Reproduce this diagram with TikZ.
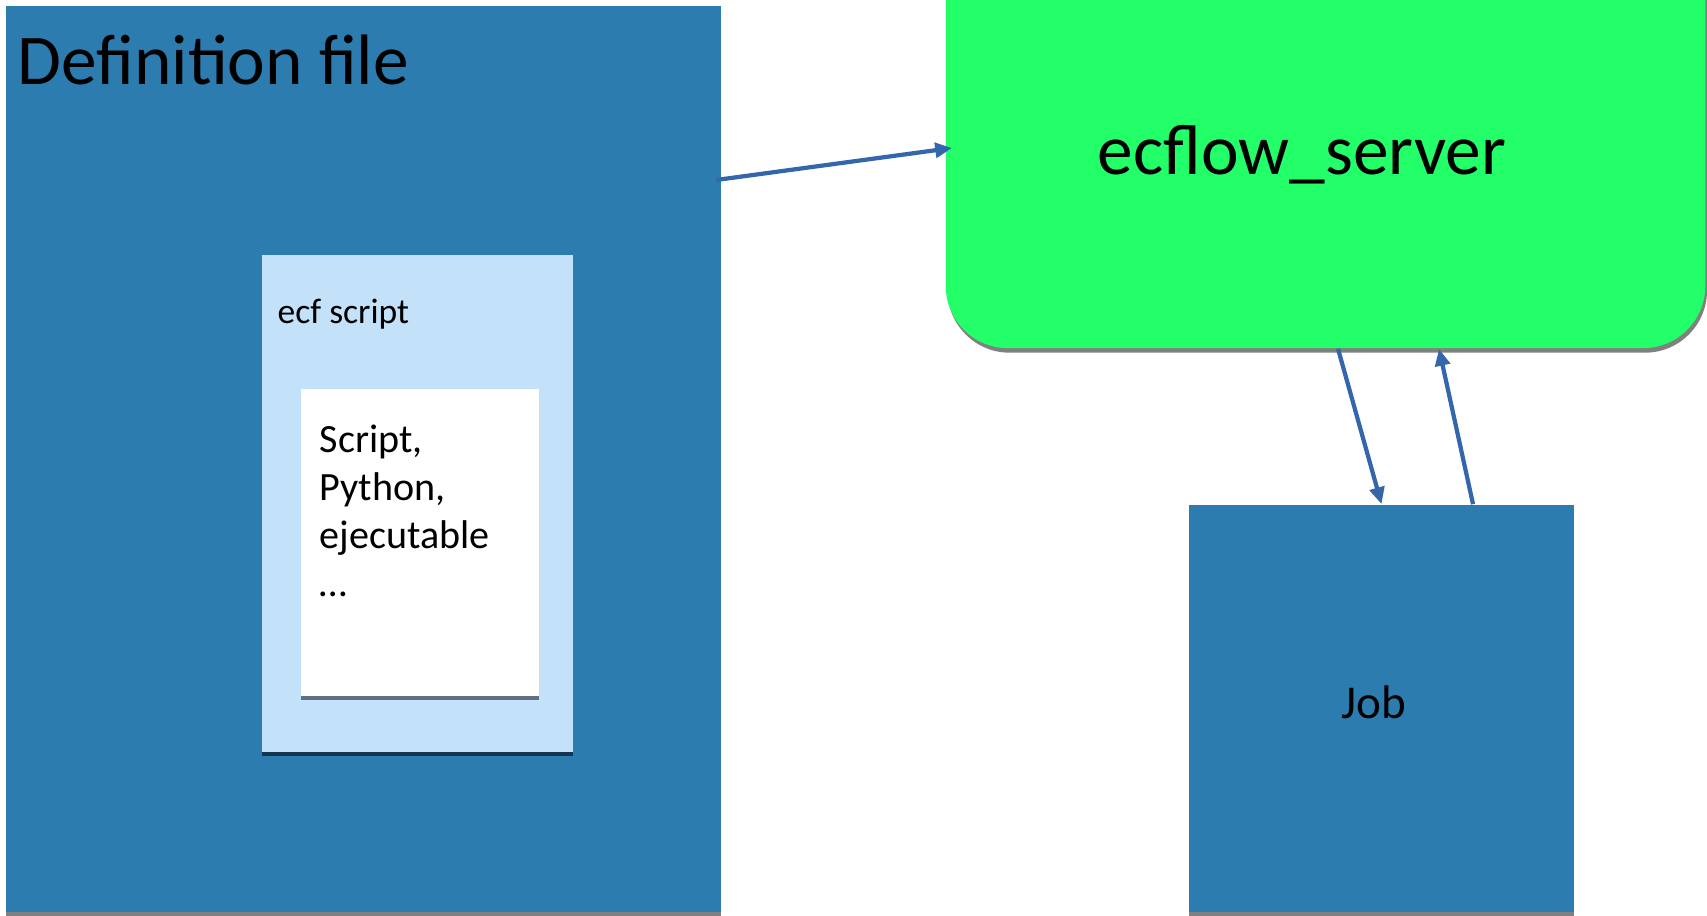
\documentclass[tikz,border=0pt]{standalone}
\usepackage{fontspec}
\setmainfont{Carlito}
\definecolor{ecfblue} {RGB}{44,124,176}
\definecolor{ecflight}{RGB}{196,225,250}
\definecolor{ecfgreen}{RGB}{34,255,104}
\definecolor{ecfarrow}{RGB}{51,102,170}
\definecolor{ecfgray} {RGB}{128,128,128}
\definecolor{ecfnavy} {RGB}{22,52,82}
\definecolor{ecfslate}{RGB}{96,112,132}
\usetikzlibrary{arrows.meta,positioning,calc,shadows}
\tikzset{
  panel/.style 2 args={rectangle,fill=#1,inner sep=0pt,
              drop shadow={shadow xshift=0pt,shadow yshift=-1.1pt,
                           fill=#2,opacity=1}},
  server/.style={rectangle,rounded corners=0.62cm,fill=ecfgreen,inner sep=0pt,
              drop shadow={shadow xshift=0.5pt,shadow yshift=-1.3pt,
                           fill=ecfgray,opacity=1}},
  lbl/.style 2 args={inner sep=0pt,text=black,font=\fontsize{#1}{#2}\selectfont},
  arr/.style={-{Triangle[length=4.8pt,width=4.2pt]},line width=1.2pt,#1},
  arr/.default=ecfarrow,
}
\begin{document}
\begin{tikzpicture}[x=0.01cm,y=-0.01cm]
  \useasboundingbox (0,0) rectangle (1707,916);
  \clip (0,0) rectangle (1707,916);
  % definition file, ecf script, script body
  \node[panel={ecfblue}{ecfgray},minimum width=7.15cm,minimum height=9.06cm]
        (deffile) at (363.5,459) {};
  \node[lbl={20.3}{24},anchor=base west] (deftitle) at (17,85) {Definition file};
  \node[panel={ecflight}{ecfnavy},minimum width=3.11cm,minimum height=4.97cm]
        (ecfbox) at (417.5,503.5) {};
  \node[lbl={10.1}{12},anchor=base west] (ecftitle) at (277,324) {ecf script};
  \node[panel={white}{ecfslate},minimum width=2.38cm,minimum height=3.07cm]
        (body) at (420,542.5) {};
  \node[lbl={11.4}{13.7},align=left,anchor=north west] (bodytext) at (319,424)
        {Script,\\Python,\\ejecutable\\…};
  % server and job
  \node[server,minimum width=7.59cm,minimum height=4.28cm] (server) at (1325.5,134) {};
  \node[lbl={20.3}{24},anchor=base] (servertitle) at (1302,175) {ecflow\_server};
  \node[panel={ecfblue}{ecfgray},minimum width=3.85cm,minimum height=4.07cm]
        (job) at (1381.5,708.5) {};
  \node[lbl={13.4}{16},anchor=base] (jobtitle) at (1374,718) {Job};
  % connectors
  \draw[arr] ($(deffile.north east)+(-6,175)$) -- ($(server.west)+(7,14)$);
  \draw[arr] ($(server.south)+(12.5,0)$) -- (job.north);
  \draw[arr] ($(job.north)+(91.5,0)$) -- ($(server.south)+(113.5,0)$);
\end{tikzpicture}
\end{document}
